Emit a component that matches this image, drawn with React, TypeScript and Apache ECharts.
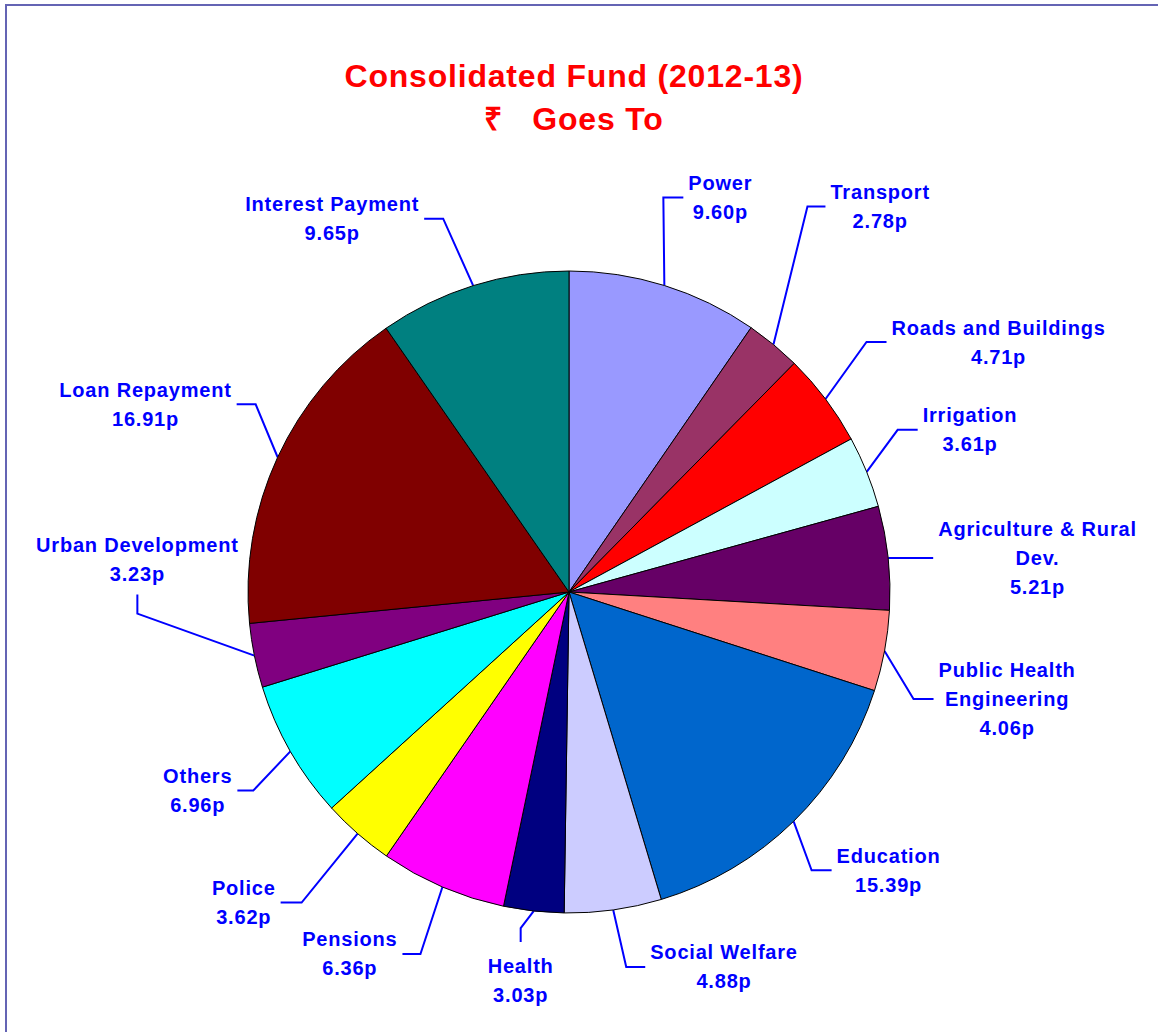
import React, { useEffect, useRef } from "react";
import * as echarts from "echarts";

// ---- data ----
const categories = [
  "Power",
  "Transport",
  "Roads and Buildings",
  "Irrigation",
  "Agriculture & Rural\nDev.",
  "Public Health\nEngineering",
  "Education",
  "Social Welfare",
  "Health",
  "Pensions",
  "Police",
  "Others",
  "Urban Development",
  "Loan Repayment",
  "Interest Payment",
];
const values = [9.6, 2.78, 4.71, 3.61, 5.21, 4.06, 15.39, 4.88, 3.03, 6.36, 3.62, 6.96, 3.23, 16.91, 9.65];
const titleLine1 = "Consolidated Fund (2012-13)";
const titleLine2 = "₹   Goes To";

// ---- styles / layout ----
const colors = [
  "#9999ff", "#993366", "#ff0000", "#ccffff", "#660066",
  "#ff8080", "#0066cc", "#ccccff", "#000080", "#ff00ff",
  "#ffff00", "#00ffff", "#800080", "#800000", "#008080",
];
// elbow of each leader line, relative to the slice's outer edge point
const elbowOffsets = [
  [-1, -88], [34, -138], [41, -57], [31, -42], [22, 0],
  [29, 48], [18, 49], [13, 57], [-13, 17], [-22, 67],
  [-56, 69], [-37, 39], [-117, -42], [-22, -53], [-30, -67],
];
const stubDirs = [
  "right", "right", "right", "right", "right",
  "right", "right", "right", "down", "left",
  "left", "left", "up", "left", "left",
];
const stubLengths = [20, 18, 20, 20, 23, 20, 20, 19, 14, 18, 21, 16, 19, 19, 19];

const CX = 569;
const CY = 592;
const R = 321;
const GAP = 5;
const LS = 0.8; // letter spacing in px
const FONT = "'Liberation Sans', Arial, Helvetica, sans-serif";

function edgePoint(i: number): number[] {
  const total = values.reduce((a, b) => a + b, 0);
  let before = 0;
  for (let k = 0; k < i; k++) before += values[k];
  const frac = (before + values[i] / 2) / total;
  const th = frac * 2 * Math.PI;
  return [CX + R * Math.sin(th), CY - R * Math.cos(th)];
}

export default function App() {
  const ref = useRef<HTMLDivElement>(null);
  useEffect(() => {
    if (!ref.current) return;
    const chart = echarts.init(ref.current, undefined, { renderer: "svg" });
    chart.setOption({
      animation: false,
      backgroundColor: "#ffffff",
      graphic: [
        {
          type: "rect",
          silent: true,
          shape: { x: 6, y: 5, width: 1200, height: 1100 },
          style: { fill: "none", stroke: "#6464b4", lineWidth: 2 },
        },
        {
          type: "text",
          x: 574,
          y: 76,
          style: {
            text: titleLine1,
            fontSize: 32,
            fontWeight: "bold",
            fontFamily: FONT,
            fill: "#ff0000",
            align: "center",
            verticalAlign: "middle",
          },
        },
        {
          type: "text",
          x: 574,
          y: 119,
          style: {
            text: titleLine2,
            fontSize: 32,
            fontWeight: "bold",
            fontFamily: FONT,
            fill: "#ff0000",
            align: "center",
            verticalAlign: "middle",
          },
        },
      ],
      series: [
        {
          type: "pie",
          center: [CX, CY],
          radius: [0, R],
          startAngle: 90,
          clockwise: true,
          avoidLabelOverlap: false,
          itemStyle: { borderColor: "#000000", borderWidth: 1 },
          data: categories.map((name, i) => ({
            name,
            value: values[i],
            itemStyle: { color: colors[i] },
          })),
          label: {
            show: true,
            position: "outside",
            formatter: (p: any) => `${p.name}\n${Number(p.value).toFixed(2)}p`,
            color: "#0000ff",
            fontSize: 20,
            fontWeight: "bold",
            fontFamily: FONT,
            lineHeight: 29,
            align: "center",
          },
          labelLine: {
            show: true,
            lineStyle: { color: "#0000ff", width: 2 },
          },
          labelLayout: (params: any) => {
            const i = params.dataIndex;
            const E = edgePoint(i);
            const el = [E[0] + elbowOffsets[i][0], E[1] + elbowOffsets[i][1]];
            const L = stubLengths[i];
            const lines = String(params.text || "").split("\n");
            const maxChars = Math.max(...lines.map((s) => s.length));
            const w = params.labelRect.width + LS * maxChars;
            let end: number[];
            let x: number;
            let y: number;
            let verticalAlign = "middle";
            switch (stubDirs[i]) {
              case "right":
                end = [el[0] + L, el[1]];
                x = end[0] + GAP + w / 2;
                y = end[1];
                break;
              case "left":
                end = [el[0] - L, el[1]];
                x = end[0] - GAP - w / 2;
                y = end[1];
                break;
              case "down":
                end = [el[0], el[1] + L];
                x = end[0];
                y = end[1] + 9;
                verticalAlign = "top";
                break;
              default:
                end = [el[0], el[1] - L];
                x = end[0];
                y = end[1] - 6;
                verticalAlign = "bottom";
            }
            return {
              x,
              y,
              align: "center",
              verticalAlign,
              labelLinePoints: [E, el, end],
            };
          },
        },
      ],
    });
    return () => chart.dispose();
  }, []);
  return (
    <>
      <style>{`.pie-chart-root text { letter-spacing: ${LS}px; }`}</style>
      <div
        ref={ref}
        className="pie-chart-root"
        style={{ position: "absolute", left: 0, top: 0, width: 1158, height: 1032 }}
      />
    </>
  );
}
